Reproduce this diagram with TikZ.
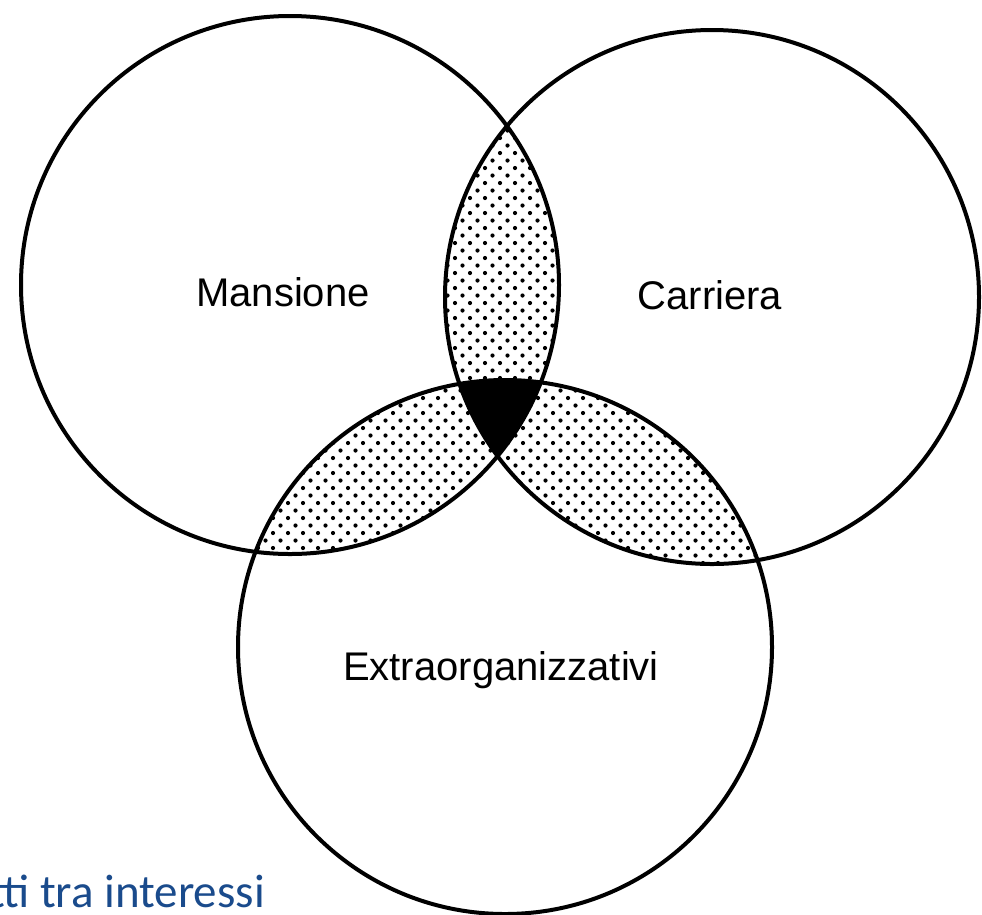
\documentclass[tikz,border=0pt]{standalone}
\usepackage{fontspec}
\setmainfont{Liberation Sans}
\newfontfamily\capfont{Carlito}
\definecolor{capblue}{RGB}{26,75,140}
\newcommand{\dotgrid}[4]{%
  \foreach \jj in {0,...,#4}{%
    \foreach \ii in {0,...,#3}{%
      \fill ({#1+\ii*15+mod(\jj,2)*7.5},{#2+\jj*7.5}) circle[radius=2.1pt];
    }%
  }%
}
\begin{document}
\begin{tikzpicture}[x=1pt,y=-1pt,
  ring/.style={draw=black, line width=4pt},
  lbl/.style={font=\fontsize{40}{48}\selectfont, anchor=base, inner sep=0pt},
  caption/.style={font=\capfont\fontsize{47}{56}\selectfont, text=capblue, anchor=base east, inner sep=0pt}]
\useasboundingbox (0,0) rectangle (982,914);
\fill[white] (0,0) rectangle (982,914);
\coordinate (cL) at (290,285);
\coordinate (cR) at (712,297);
\coordinate (cB) at (505,647);
\def\rL{269pt}\def\rR{267pt}\def\rB{267pt}
% dotted lens: Mansione & Carriera
\begin{scope}
  \clip (cL) circle[radius=\rL];
  \clip (cR) circle[radius=\rR];
  \dotgrid{440}{108}{9}{48}
\end{scope}
% dotted lens: Mansione & Extraorganizzativi
\begin{scope}
  \clip (cL) circle[radius=\rL];
  \clip (cB) circle[radius=\rB];
  \dotgrid{228}{368}{19}{27}
\end{scope}
% dotted lens: Carriera & Extraorganizzativi
\begin{scope}
  \clip (cR) circle[radius=\rR];
  \clip (cB) circle[radius=\rB];
  \dotgrid{493}{368}{19}{28}
\end{scope}
% black triple intersection
\begin{scope}
  \clip (cL) circle[radius=\rL];
  \clip (cR) circle[radius=\rR];
  \fill[black] (cB) circle[radius=\rB];
\end{scope}
% circles
\draw[ring] (cL) circle[radius=\rL];
\draw[ring] (cR) circle[radius=\rR];
\draw[ring] (cB) circle[radius=\rB];
% labels
\node[lbl] (mans) at (283,306) {Mansione};
\node[lbl] (carr) at (710,309) {Carriera};
\node[lbl] (extra) at (501,680) {Extraorganizzativi};
\node[caption] (cap) at (265,907) {tti tra interessi};
\end{tikzpicture}
\end{document}
